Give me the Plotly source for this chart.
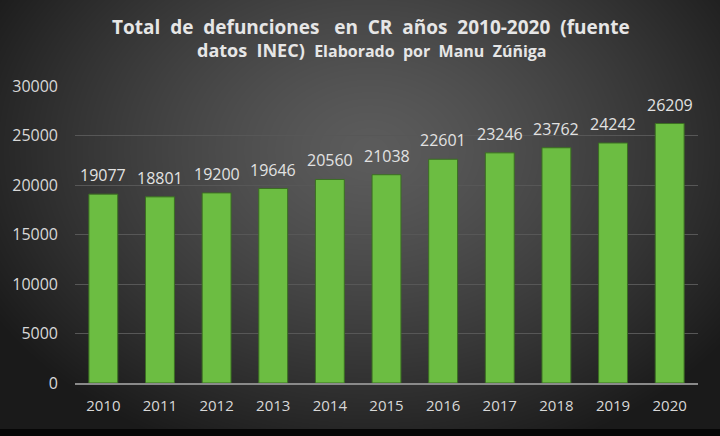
import base64
import struct
import zlib

import numpy as np
import plotly.graph_objects as go

# === Datos ===
anios = ["2010", "2011", "2012", "2013", "2014", "2015", "2016", "2017", "2018", "2019", "2020"]
defunciones = [19077, 18801, 19200, 19646, 20560, 21038, 22601, 23246, 23762, 24242, 26209]

ANCHO, ALTO = 720, 436
M_IZQ, M_DER, M_SUP, M_INF = 75, 22, 86, 53
plot_w = ANCHO - M_IZQ - M_DER
plot_h = ALTO - M_SUP - M_INF


def px_a_paper_y(y_px):
    return (ALTO - M_INF - y_px) / plot_h


def px_a_paper_x(x_px):
    return (x_px - M_IZQ) / plot_w


# === Fondo degradado radial (png en memoria) ===
def fondo_png(w, h):
    yy, xx = np.mgrid[0:h, 0:w]
    d = np.sqrt(((xx - 370) / 430.0) ** 2 + ((yy - 150) / 320.0) ** 2)
    v = np.clip(92 - 64 * d ** 1.3, 26, 255)
    v[429:, :] = 6  # franja negra inferior
    img = np.repeat(v[:, :, None], 3, axis=2).astype(np.uint8)
    raw = b"".join(b"\x00" + img[i].tobytes() for i in range(h))

    def chunk(tag, data):
        return (struct.pack(">I", len(data)) + tag + data
                + struct.pack(">I", zlib.crc32(tag + data) & 0xffffffff))

    png = (b"\x89PNG\r\n\x1a\n"
           + chunk(b"IHDR", struct.pack(">IIBBBBB", w, h, 8, 2, 0, 0, 0))
           + chunk(b"IDAT", zlib.compress(raw, 9))
           + chunk(b"IEND", b""))
    return "data:image/png;base64," + base64.b64encode(png).decode()


fig = go.Figure()

fig.add_trace(go.Bar(
    x=anios,
    y=defunciones,
    marker=dict(color="#6cbd42", line=dict(color="#3b6e22", width=1)),
    hoverinfo="x+y",
))

# etiquetas encima de las barras (x = índice de categoría)
for i, v in enumerate(defunciones):
    fig.add_annotation(x=i, y=v, text=str(v), showarrow=False,
                       yanchor="bottom", yshift=6,
                       font=dict(family="Open Sans", size=16, color="#e2e2e2"))

# titulo en dos lineas
fig.add_annotation(xref="paper", yref="paper",
                   x=px_a_paper_x(371), y=px_a_paper_y(27),
                   xanchor="center", yanchor="middle", showarrow=False,
                   text="<b>Total  de  defunciones   en  CR  años  2010-2020  (fuente</b>",
                   font=dict(family="Open Sans", size=19, color="#e6e6e6"))
fig.add_annotation(xref="paper", yref="paper",
                   x=px_a_paper_x(372), y=px_a_paper_y(50),
                   xanchor="center", yanchor="middle", showarrow=False,
                   text="<b>datos  INEC)</b>  <span style='font-size:16px'><b>Elaborado  por  Manu  Zúñiga</b></span>",
                   font=dict(family="Open Sans", size=18, color="#e6e6e6"))

fig.add_layout_image(
    source=fondo_png(ANCHO, ALTO),
    xref="paper", yref="paper",
    x=-M_IZQ / plot_w, y=1 + M_SUP / plot_h,
    sizex=ANCHO / plot_w, sizey=ALTO / plot_h,
    xanchor="left", yanchor="top",
    sizing="stretch", layer="below",
)

fig.update_layout(
    width=ANCHO, height=ALTO,
    margin=dict(l=M_IZQ, r=M_DER, t=M_SUP, b=M_INF, autoexpand=False),
    paper_bgcolor="#2a2a2a",
    plot_bgcolor="rgba(0,0,0,0)",
    showlegend=False,
    bargap=0.49,
    font=dict(family="Open Sans", color="#d8d8d8"),
    xaxis=dict(type="category", showline=True, linecolor="#8a8a8a", linewidth=2,
               showgrid=False, ticks="", ticklabelstandoff=8, automargin=False,
               tickfont=dict(size=15, color="#d8d8d8")),
    yaxis=dict(range=[0, 30000], dtick=5000, tickformat="d", showline=False,
               showgrid=True, gridcolor="#575757", gridwidth=1, automargin=False,
               zeroline=False, ticks="", ticklabelstandoff=16,
               tickfont=dict(size=16, color="#d8d8d8")),
)

# quitar el margen por defecto de la pagina para que el grafico quede en (0, 0)
fig.write_html("out.html", config={"displayModeBar": False},
               post_script="document.body.style.margin='0';document.body.style.background='#000';")
